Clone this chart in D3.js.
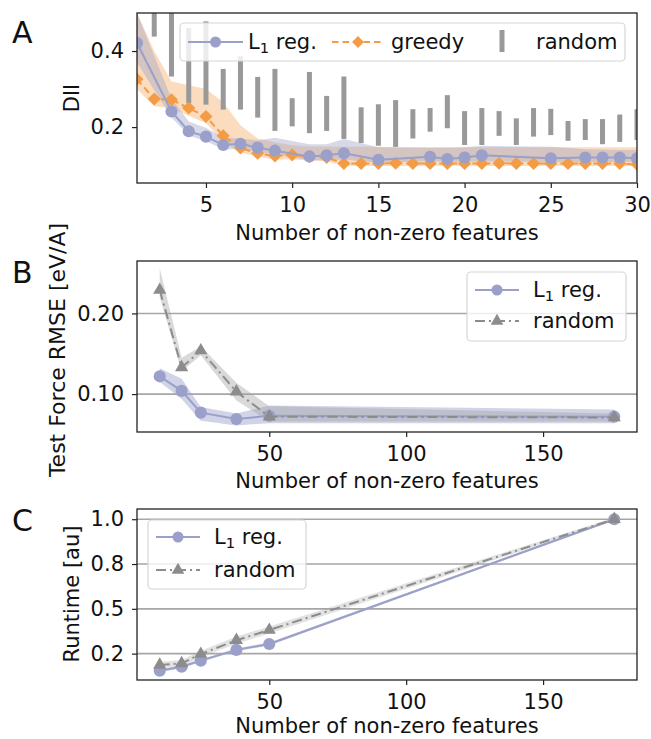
<!DOCTYPE html>
<html>
<head>
<meta charset="utf-8">
<script src="https://cdn.jsdelivr.net/npm/d3@7"></script>
<style>
body { margin: 0; background: #fff; }
text { font-family: "DejaVu Sans", sans-serif; fill: #111; }
</style>
</head>
<body>
<div id="chart"></div>
<script>
// ---- panel A : DII vs number of features ----
var featA = [1,2,3,4,5,6,7,8,9,10,11,12,13,14,15,16,17,18,19,20,21,22,23,24,25,26,27,28,29,30];
var greedyDII = [0.326,0.274,0.272,0.250,0.228,0.177,0.145,0.131,0.124,0.127,0.122,0.120,0.104,0.104,0.104,0.105,0.104,0.104,0.104,0.104,0.104,0.105,0.104,0.104,0.104,0.104,0.104,0.104,0.104,0.102];
var greedyHi = [0.50,0.40,0.32,0.31,0.30,0.265,0.205,0.17,0.16,0.152,0.149,0.149,0.148,0.148,0.148,0.147,0.147,0.147,0.147,0.147,0.147,0.147,0.147,0.147,0.147,0.147,0.147,0.147,0.147,0.147];
var greedyLo = [0.30,0.255,0.25,0.23,0.21,0.162,0.133,0.122,0.115,0.115,0.112,0.110,0.098,0.098,0.098,0.098,0.098,0.098,0.098,0.098,0.098,0.098,0.098,0.098,0.098,0.098,0.098,0.098,0.098,0.098];

var l1FeatA = [1,3,4,5,6,7,8,9,11,12,13,15,18,19,20,21,25,27,28,29,30];
var l1DII = [0.421,0.241,0.189,0.175,0.153,0.156,0.146,0.138,0.123,0.126,0.131,0.114,0.122,0.116,0.120,0.126,0.118,0.120,0.120,0.120,0.118];
var l1HiA = [0.50,0.275,0.215,0.198,0.172,0.170,0.165,0.172,0.155,0.155,0.169,0.147,0.146,0.146,0.147,0.151,0.148,0.142,0.141,0.140,0.140];
var l1LoA = [0.37,0.225,0.178,0.163,0.142,0.142,0.135,0.128,0.113,0.113,0.115,0.106,0.110,0.108,0.108,0.110,0.108,0.108,0.108,0.108,0.108];

var randFeatA = [2,3,4,5,6,7,8,9,10,11,12,13,14,15,16,17,18,19,20,21,22,23,24,25,26,27,28,29,30];
var randLoA = [0.438,0.333,0.263,0.259,0.246,0.246,0.225,0.190,0.202,0.184,0.190,0.169,0.158,0.151,0.148,0.170,0.188,0.197,0.153,0.153,0.177,0.153,0.175,0.179,0.164,0.166,0.155,0.161,0.166];
var randHiA = [0.52,0.52,0.460,0.478,0.353,0.386,0.332,0.353,0.276,0.345,0.282,0.333,0.252,0.260,0.271,0.247,0.250,0.284,0.242,0.250,0.242,0.223,0.250,0.248,0.216,0.221,0.221,0.233,0.247];
var ticksA = [5,10,15,20,25,30];
var yTicksA = [0.2,0.4];

// ---- panels B and C ----
var feat = [10,18,25,38,50,176];
var rmseL1 = [0.122,0.104,0.077,0.069,0.073,0.072];
var rmseL1Hi = [0.132,0.119,0.084,0.076,0.086,0.081];
var rmseL1Lo = [0.115,0.094,0.067,0.061,0.064,0.064];
var rmseRand = [0.229,0.133,0.154,0.103,0.072,0.071];
var rmseRandHi = [0.256,0.145,0.159,0.114,0.085,0.076];
var rmseRandLo = [0.220,0.128,0.148,0.092,0.066,0.066];
var yTicksB = [0.10,0.20];

var runL1 = [0.155,0.177,0.211,0.271,0.304,1.0];
var runL1Hi = [0.163,0.185,0.219,0.279,0.312,1.006];
var runL1Lo = [0.147,0.169,0.203,0.263,0.296,0.994];
var runRand = [0.187,0.196,0.248,0.325,0.382,1.0];
var runRandHi = [0.205,0.214,0.266,0.345,0.402,1.008];
var runRandLo = [0.170,0.178,0.230,0.305,0.362,0.992];
var yTicksC = [0.25,0.5,0.75,1.0];
var yTickLabelsC = ["0.2","0.5","0.8","1.0"];
var ticksBC = [50,100,150];

var blue = "#9aa0c9", orange = "#f39c45", grey = "#8c8c8c", barGrey = "#999999";
var fs = 21;

var svg = d3.select("#chart").append("svg")
	.attr("width", 651)
	.attr("height", 739);

function makePanel(top, bottom, xDomain, yDomain, xTicks, yTicks, yLabels, grid, id) {
	var x = d3.scaleLinear().domain(xDomain).range([137, 637]);
	var y = d3.scaleLinear().domain(yDomain).range([bottom, top]);

	svg.append("clipPath").attr("id", id)
		.append("rect").attr("x", 137).attr("y", top).attr("width", 500).attr("height", bottom - top);

	if (grid) {
		svg.append("g").selectAll("line")
			.data(yTicks)
			.enter().append("line")
			.attr("x1", 137).attr("x2", 637)
			.attr("y1", function(d) { return y(d); })
			.attr("y2", function(d) { return y(d); })
			.style("stroke", "#a6a6a6")
			.style("stroke-width", 1.6);
	}

	var xAxis = d3.axisBottom(x).tickValues(xTicks).tickSize(5).tickPadding(9);
	var yAxis = d3.axisLeft(y).tickValues(yTicks).tickSize(5).tickPadding(8)
		.tickFormat(function(d, i) { return yLabels ? yLabels[i] : d3.format(".1f")(d); });

	var gx = svg.append("g").attr("transform", "translate(0," + bottom + ")").call(xAxis);
	var gy = svg.append("g").attr("transform", "translate(137,0)").call(yAxis);
	[gx, gy].forEach(function(g) {
		g.select(".domain").remove();
		g.selectAll("line").style("stroke", "#222").style("stroke-width", 1.2);
		g.selectAll("text").style("font-size", fs + "px").style("font-family", "DejaVu Sans").style("fill", "#111");
	});

	var plot = svg.append("g").attr("clip-path", "url(#" + id + ")");
	return {x: x, y: y, plot: plot, top: top, bottom: bottom};
}

function frame(p) {
	svg.append("rect")
		.attr("x", 137).attr("y", p.top)
		.attr("width", 500).attr("height", p.bottom - p.top)
		.style("fill", "none").style("stroke", "#222").style("stroke-width", 1.3);
}

function band(p, xs, lo, hi, color, op) {
	var area = d3.area()
		.x(function(d, i) { return p.x(xs[i]); })
		.y0(function(d, i) { return p.y(lo[i]); })
		.y1(function(d, i) { return p.y(hi[i]); });
	p.plot.append("path").datum(xs).attr("d", area)
		.style("fill", color).style("fill-opacity", op).style("stroke", "none");
}

function line(p, xs, ys, color, dash) {
	var ln = d3.line()
		.x(function(d, i) { return p.x(xs[i]); })
		.y(function(d, i) { return p.y(ys[i]); });
	p.plot.append("path").datum(xs).attr("d", ln)
		.style("fill", "none").style("stroke", color).style("stroke-width", 2)
		.style("stroke-dasharray", dash || null);
}

function markers(p, xs, ys, type, size, color, rot) {
	var sym = d3.symbol().type(type).size(size);
	p.plot.append("g").selectAll("path")
		.data(xs)
		.enter().append("path")
		.attr("d", sym)
		.attr("transform", function(d, i) { return "translate(" + p.x(d) + "," + p.y(ys[i]) + ")" + (rot ? " rotate(45)" : ""); })
		.style("fill", color);
}

function label(txt, x, y, size, rotate, anchor) {
	var t = svg.append("text")
		.attr("x", x).attr("y", y)
		.style("font-size", size + "px")
		.style("text-anchor", anchor || "middle")
		.text(txt);
	if (rotate) t.attr("transform", "rotate(-90," + x + "," + y + ")");
	return t;
}

function l1Text(x, y) {
	var t = svg.append("text").attr("x", x).attr("y", y).style("font-size", fs + "px");
	t.append("tspan").text("L");
	t.append("tspan").attr("dy", 4).style("font-size", (fs * 0.7) + "px").text("1");
	t.append("tspan").attr("dy", -4).text(" reg.");
}

function legendBox(x, y, w, h) {
	svg.append("rect")
		.attr("x", x).attr("y", y).attr("width", w).attr("height", h)
		.attr("rx", 4)
		.style("fill", "#fff").style("fill-opacity", 0.8)
		.style("stroke", "#d6d6d6").style("stroke-width", 1.2);
}

// ---------------- Panel A ----------------
var pA = makePanel(13, 183, [1, 30], [0.053, 0.5], ticksA, yTicksA, null, false, "clipA");
band(pA, featA, greedyLo, greedyHi, orange, 0.35);
band(pA, l1FeatA, l1LoA, l1HiA, blue, 0.4);
pA.plot.append("g").selectAll("rect")
	.data(randFeatA)
	.enter().append("rect")
	.attr("x", function(d) { return pA.x(d) - 2.5; })
	.attr("width", 5)
	.attr("y", function(d, i) { return pA.y(randHiA[i]); })
	.attr("height", function(d, i) { return pA.y(randLoA[i]) - pA.y(randHiA[i]); })
	.style("fill", barGrey);
line(pA, featA, greedyDII, orange, "7,4");
markers(pA, featA, greedyDII, d3.symbolSquare, 85, orange, true);
line(pA, l1FeatA, l1DII, blue);
markers(pA, l1FeatA, l1DII, d3.symbolCircle, 115, blue);
frame(pA);

legendBox(180, 23, 445, 38);
svg.append("line").attr("x1", 188).attr("x2", 243).attr("y1", 42).attr("y2", 42).style("stroke", blue).style("stroke-width", 2);
svg.append("circle").attr("cx", 215.5).attr("cy", 42).attr("r", 5.5).style("fill", blue);
l1Text(248, 49);
svg.append("line").attr("x1", 332).attr("x2", 384).attr("y1", 42).attr("y2", 42).style("stroke", orange).style("stroke-width", 2).style("stroke-dasharray", "6.5,4");
svg.append("path").attr("d", d3.symbol().type(d3.symbolSquare).size(70)).attr("transform", "translate(358,42) rotate(45)").style("fill", orange);
label("greedy", 391, 49, fs, false, "start");
svg.append("rect").attr("x", 499.5).attr("y", 30).attr("width", 5).attr("height", 22).style("fill", barGrey);
label("random", 536, 49, fs, false, "start");

label("A", 12, 43, 30, false, "start");
label("DII", 79, 98, fs, true);
label("Number of non-zero features", 387, 240, fs);

// ---------------- Panel B ----------------
var pB = makePanel(261, 432, [1.7, 184.3], [0.053, 0.265], ticksBC, yTicksB, ["0.10", "0.20"], true, "clipB");
band(pB, feat, rmseL1Lo, rmseL1Hi, blue, 0.45);
band(pB, feat, rmseRandLo, rmseRandHi, "#a0a0a0", 0.4);
line(pB, feat, rmseL1, blue);
markers(pB, feat, rmseL1, d3.symbolCircle, 115, blue);
line(pB, feat, rmseRand, grey, "10,4,2,4");
markers(pB, feat, rmseRand, d3.symbolTriangle, 75, grey);
frame(pB);

legendBox(467, 272, 159, 69);
svg.append("line").attr("x1", 475).attr("x2", 519).attr("y1", 290).attr("y2", 290).style("stroke", blue).style("stroke-width", 2);
svg.append("circle").attr("cx", 497).attr("cy", 290).attr("r", 5.5).style("fill", blue);
l1Text(533, 297);
svg.append("line").attr("x1", 475).attr("x2", 519).attr("y1", 321).attr("y2", 321).style("stroke", grey).style("stroke-width", 2).style("stroke-dasharray", "10,4,2,4");
svg.append("path").attr("d", d3.symbol().type(d3.symbolTriangle).size(70)).attr("transform", "translate(497,321)").style("fill", grey);
label("random", 533, 328, fs, false, "start");

label("B", 12, 283, 30, false, "start");
label("Test Force RMSE [eV/A]", 65, 350, 22, true);
label("Number of non-zero features", 387, 488, fs);

// ---------------- Panel C ----------------
var pC = makePanel(509, 680, [1.7, 184.3], [0.103, 1.057], ticksBC, yTicksC, yTickLabelsC, true, "clipC");
band(pC, feat, runL1Lo, runL1Hi, blue, 0.45);
band(pC, feat, runRandLo, runRandHi, "#a0a0a0", 0.3);
line(pC, feat, runL1, blue);
markers(pC, feat, runL1, d3.symbolCircle, 115, blue);
line(pC, feat, runRand, grey, "10,4,2,4");
markers(pC, feat, runRand, d3.symbolTriangle, 75, grey);
frame(pC);

legendBox(148, 520, 158, 69);
svg.append("line").attr("x1", 156).attr("x2", 200).attr("y1", 537).attr("y2", 537).style("stroke", blue).style("stroke-width", 2);
svg.append("circle").attr("cx", 178).attr("cy", 537).attr("r", 5.5).style("fill", blue);
l1Text(214, 544);
svg.append("line").attr("x1", 156).attr("x2", 200).attr("y1", 570).attr("y2", 570).style("stroke", grey).style("stroke-width", 2).style("stroke-dasharray", "10,4,2,4");
svg.append("path").attr("d", d3.symbol().type(d3.symbolTriangle).size(70)).attr("transform", "translate(178,570)").style("fill", grey);
label("random", 214, 577, fs, false, "start");

label("C", 12, 531, 30, false, "start");
label("Runtime [au]", 79, 594, fs, true);
label("Number of non-zero features", 387, 733, fs);
</script>
</body>
</html>
